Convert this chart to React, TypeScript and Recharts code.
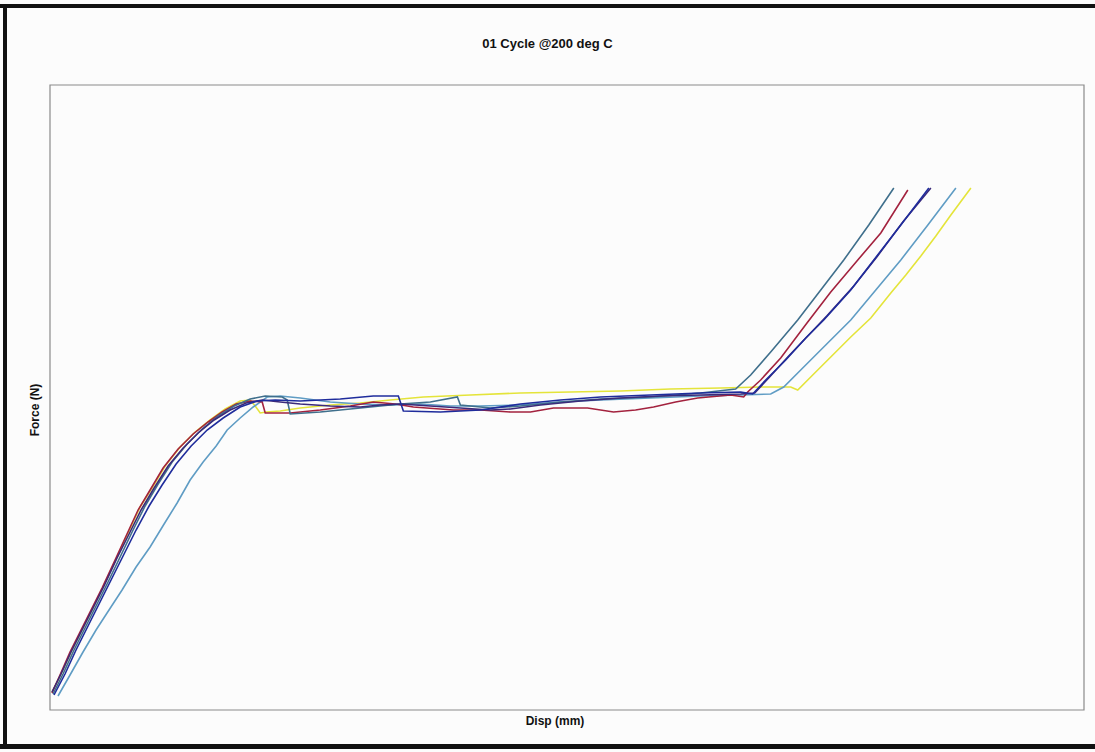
import React from "react";
import { LineChart, Line, XAxis, YAxis, ReferenceArea } from "recharts";

type Pt = { x: number; y: number };

// displacement (mm) / force (N) pairs per test run
const yellowDisp = [0.02, 0.12, 0.22, 0.32, 0.42, 0.54, 0.67, 0.78, 0.9, 1.02, 1.15, 1.3, 1.45, 1.6, 1.75, 1.9, 2.0, 2.05, 2.1, 2.16, 2.3, 2.5, 2.8, 3.1, 3.4, 3.73, 4.2, 4.7, 5.2, 5.7, 6.2, 6.7, 7.1, 7.4, 7.47, 7.6, 7.8, 8.0, 8.2, 8.4, 8.55, 8.7, 8.85, 9.0, 9.2];
const yellowForce = [36, 76, 120, 160, 200, 250, 306, 354, 406, 444, 488, 526, 556, 580, 602, 618, 620, 608, 594, 596, 598, 604, 610, 614, 620, 626, 630, 634, 636, 638, 642, 644, 646, 646, 640, 666, 706, 746, 784, 834, 870, 908, 948, 990, 1044];

const redDisp = [0.02, 0.1, 0.2, 0.3, 0.4, 0.52, 0.65, 0.76, 0.88, 1.0, 1.13, 1.28, 1.43, 1.58, 1.72, 1.86, 2.0, 2.12, 2.15, 2.4, 2.7, 3.0, 3.23, 3.45, 3.63, 4.03, 4.3, 4.6, 4.8, 5.03, 5.37, 5.63, 5.85, 6.03, 6.25, 6.47, 6.8, 6.93, 6.97, 7.1, 7.3, 7.57, 7.8, 8.07, 8.3, 8.57];
const redForce = [34, 70, 116, 156, 196, 244, 300, 348, 400, 440, 484, 522, 552, 576, 596, 612, 618, 616, 594, 594, 600, 608, 616, 612, 606, 600, 600, 596, 596, 604, 604, 596, 600, 606, 616, 624, 630, 626, 636, 660, 704, 776, 836, 900, 954, 1040];

const tealDisp = [0.03, 0.13, 0.24, 0.35, 0.46, 0.58, 0.71, 0.83, 0.95, 1.08, 1.22, 1.37, 1.52, 1.68, 1.84, 2.0, 2.15, 2.32, 2.37, 2.4, 2.7, 3.1, 3.5, 3.8, 4.07, 4.1, 4.4, 4.7, 5.1, 5.5, 6.0, 6.5, 6.85, 7.0, 7.2, 7.47, 7.7, 7.93, 8.18, 8.43];
const tealForce = [32, 72, 120, 164, 208, 256, 310, 360, 408, 452, 496, 532, 562, 588, 608, 622, 628, 626, 620, 592, 596, 604, 612, 616, 626, 610, 604, 608, 616, 622, 626, 634, 642, 670, 716, 780, 840, 900, 970, 1044];

const navyDisp = [0.04, 0.15, 0.26, 0.37, 0.48, 0.6, 0.73, 0.86, 0.99, 1.12, 1.26, 1.41, 1.57, 1.73, 1.9, 2.07, 2.25, 2.5, 2.9, 3.23, 3.48, 3.53, 3.9, 4.3, 4.7, 5.1, 5.5, 6.0, 6.5, 6.9, 7.02, 7.15, 7.35, 7.55, 7.73, 8.0, 8.23, 8.5, 8.78];
const navyForce = [30, 72, 120, 164, 208, 256, 308, 360, 408, 450, 492, 528, 560, 584, 606, 618, 620, 618, 622, 628, 628, 598, 596, 600, 612, 620, 626, 630, 634, 636, 632, 660, 700, 744, 780, 840, 900, 970, 1044];

const purpleDisp = [0.02, 0.11, 0.21, 0.31, 0.42, 0.54, 0.67, 0.79, 0.91, 1.04, 1.18, 1.33, 1.48, 1.64, 1.8, 1.96, 2.12, 2.3, 2.5, 2.8, 3.1, 3.3, 3.5, 3.8, 4.1, 4.4, 4.6, 4.9, 5.3, 5.7, 6.1, 6.5, 6.9, 7.04, 7.18, 7.38, 7.58, 7.76, 8.03, 8.26, 8.52, 8.8];
const purpleForce = [36, 72, 116, 156, 200, 248, 304, 352, 400, 444, 488, 524, 554, 580, 600, 614, 620, 616, 612, 608, 606, 610, 612, 608, 604, 600, 602, 610, 618, 624, 628, 630, 632, 634, 664, 708, 750, 788, 848, 906, 976, 1044];

const lightDisp = [0.08, 0.2, 0.33, 0.46, 0.57, 0.72, 0.86, 1.0, 1.14, 1.27, 1.4, 1.53, 1.66, 1.77, 1.9, 2.03, 2.17, 2.3, 2.5, 2.8, 3.1, 3.4, 3.7, 4.0, 4.3, 4.7, 5.1, 5.5, 6.0, 6.5, 6.9, 7.2, 7.33, 7.5, 7.75, 8.0, 8.25, 8.5, 8.77, 9.05];
const lightForce = [28, 70, 116, 160, 194, 240, 286, 326, 372, 414, 460, 496, 528, 560, 584, 606, 626, 628, 624, 616, 612, 610, 612, 608, 608, 610, 616, 620, 624, 628, 630, 632, 646, 680, 730, 780, 840, 900, 970, 1044];

const toPts = (xs: number[], ys: number[]): Pt[] => xs.map((x, i) => ({ x, y: ys[i] }));

const series = [
  { name: "run1", color: "#e4e43a", data: toPts(yellowDisp, yellowForce) },
  { name: "run2", color: "#5f9cc4", data: toPts(lightDisp, lightForce) },
  { name: "run3", color: "#a3223e", data: toPts(redDisp, redForce) },
  { name: "run4", color: "#3f6f8c", data: toPts(tealDisp, tealForce) },
  { name: "run5", color: "#3b2a7a", data: toPts(purpleDisp, purpleForce) },
  { name: "run6", color: "#1f2c9c", data: toPts(navyDisp, navyForce) },
];

const X_MAX = 10.33;
const Y_MAX = 1250;

const labelFont = "'Liberation Sans', Arial, sans-serif";

export default function App() {
  return (
    <div style={{ position: "absolute", left: 0, top: 0, width: 1095, height: 752, background: "#fcfcfc", overflow: "hidden" }}>
      {/* scanned page frame */}
      <div style={{ position: "absolute", left: 0, top: 4, width: 1095, height: 4, background: "#111" }} />
      <div style={{ position: "absolute", left: 3, top: 4, width: 4, height: 745, background: "#111" }} />
      <div style={{ position: "absolute", left: 0, top: 744, width: 1095, height: 5, background: "#111" }} />

      <div style={{ position: "absolute", left: 0, top: 36, width: 1095, textAlign: "center", fontFamily: labelFont, fontWeight: 700, fontSize: 13, color: "#111" }}>
        01 Cycle @200 deg C
      </div>
      <div style={{ position: "absolute", left: 0, top: 714, width: 1110, textAlign: "center", fontFamily: labelFont, fontWeight: 700, fontSize: 12, color: "#111" }}>
        Disp (mm)
      </div>
      <div style={{ position: "absolute", left: 35, top: 410, transform: "translate(-50%, -50%) rotate(-90deg)", fontFamily: labelFont, fontWeight: 700, fontSize: 12, color: "#111", whiteSpace: "nowrap" }}>
        Force (N)
      </div>

      <div style={{ position: "absolute", left: 0, top: 0 }}>
        <LineChart width={1095} height={752} margin={{ top: 85, right: 11, bottom: 42, left: 50 }}>
          <XAxis type="number" dataKey="x" domain={[0, X_MAX]} hide allowDataOverflow />
          <YAxis type="number" dataKey="y" domain={[0, Y_MAX]} hide allowDataOverflow />
          <ReferenceArea x1={0} x2={X_MAX} y1={0} y2={Y_MAX} fill="none" stroke="#8a8a8a" strokeWidth={1.2} />
          {series.map((s) => (
            <Line
              key={s.name}
              data={s.data}
              dataKey="y"
              type="linear"
              stroke={s.color}
              strokeWidth={1.6}
              dot={false}
              activeDot={false}
              isAnimationActive={false}
            />
          ))}
        </LineChart>
      </div>
    </div>
  );
}
